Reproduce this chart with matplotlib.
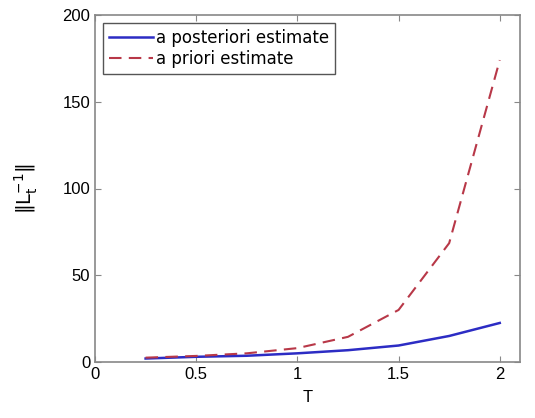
import matplotlib
matplotlib.use('Agg')
import matplotlib.pyplot as plt

plt.rcParams['font.family'] = ['Liberation Sans', 'DejaVu Sans']

T = [0.25, 0.5, 0.75, 1.0, 1.25, 1.5, 1.75, 2.0]
posteriori = [2.0, 3.0, 3.6, 5.0, 6.8, 9.5, 15.0, 22.5]
priori = [2.5, 3.5, 5.0, 8.0, 14.5, 30.0, 68.5, 174.0]

fig = plt.figure(figsize=(5.35, 4.18), dpi=100)
ax = fig.add_axes([95 / 535, 1 - 362 / 418, 425 / 535, 347 / 418])

ax.plot(T, posteriori, color='#2c2cc4', lw=1.8, label='a posteriori estimate')
ax.plot(T, priori, color='#b83848', lw=1.5, ls=(0, (6, 3.5)), label='a priori estimate')

ax.set_xlim(0, 2.1)
ax.set_ylim(0, 200)
ax.set_xticks([0, 0.5, 1, 1.5, 2])
ax.set_xticklabels(['0', '0.5', '1', '1.5', '2'])
ax.set_yticks([0, 50, 100, 150, 200])
ax.tick_params(direction='in', top=True, right=True, labelsize=12, color='#888888', length=4)
for s in ax.spines.values():
    s.set_color('#888888')
    s.set_linewidth(1.2)

ax.set_xlabel('T', fontsize=12, labelpad=6)
ax.set_ylabel(r'$\|\mathrm{L}_\mathrm{t}^{-1}\|$', fontsize=14, labelpad=16)

leg = ax.legend(loc='upper left', prop={'family': 'DejaVu Sans', 'size': 12},
                fancybox=False, framealpha=1, edgecolor='#555555',
                handlelength=2.6, borderaxespad=0.5, borderpad=0.35,
                handletextpad=0.2, labelspacing=0.15)
leg.get_frame().set_linewidth(1.0)

fig.savefig('out.png', dpi=100)
